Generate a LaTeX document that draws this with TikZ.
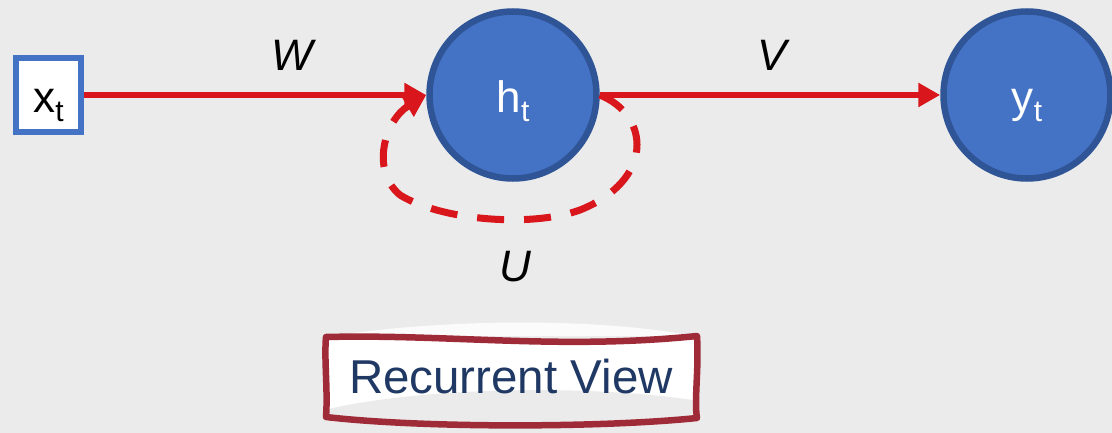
\documentclass[tikz,border=0pt]{standalone}
\usepackage{fontspec}
\setmainfont{Liberation Sans}
\usetikzlibrary{arrows.meta}
\definecolor{bg}{RGB}{235,235,235}
\definecolor{nodeblue}{RGB}{68,114,196}
\definecolor{darkblue}{RGB}{47,85,151}
\definecolor{arrowred}{RGB}{216,22,27}
\definecolor{boxred}{RGB}{160,43,56}
\definecolor{textblue}{RGB}{31,56,100}
\newcommand\mysub[1]{\raisebox{-0.2em}{\fontsize{30}{31}\selectfont #1}}
\begin{document}
\begin{tikzpicture}[x=1pt,y=-1pt,
  neuron/.style={circle, fill=nodeblue, draw=darkblue, line width=6.5pt, minimum size=167pt,
    inner sep=0pt, text=white, font=\fontsize{44}{50}\selectfont, text height=35pt, text depth=0pt},
  inbox/.style={rectangle, fill=white, draw=nodeblue, line width=6.5pt, minimum width=65pt,
    minimum height=74pt, inner sep=0pt, font=\fontsize{44}{50}\selectfont, text height=35pt, text depth=0pt},
  conn/.style={draw=arrowred, line width=6.5pt, -{Triangle[length=22pt,width=23pt]}},
  loopconn/.style={conn, dash pattern=on 27pt off 20pt, line width=7pt},
  wlabel/.style={font=\fontsize{44}{50}\selectfont\itshape, anchor=base, inner sep=0pt},
]
\fill[bg] (0,0) rectangle (1112,433);
\useasboundingbox (0,0) rectangle (1112,433);

% Recurrent view box
\fill[white, opacity=0.8] (332,336) .. controls (450,318) and (600,318) .. (694,336) -- cycle;
\fill[white] (326,337) .. controls (450,334) and (560,350) .. (697,336)
  .. controls (699,370) and (694,400) .. (697,418)
  .. controls (600,428) and (420,428) .. (326,417)
  .. controls (328,390) and (324,360) .. (326,337) -- cycle;
\begin{scope}
  \clip (326,337) .. controls (450,334) and (560,350) .. (697,336)
    .. controls (699,370) and (694,400) .. (697,418)
    .. controls (600,428) and (420,428) .. (326,417)
    .. controls (328,390) and (324,360) .. (326,337) -- cycle;
  \fill[bg] (320,411) .. controls (420,386) and (600,384) .. (705,402) -- (705,440) -- (320,440) -- cycle;
\end{scope}
\draw[boxred, line width=6.5pt, line join=round] (326,337) .. controls (450,334) and (560,350) .. (697,336)
  .. controls (699,370) and (694,400) .. (697,418)
  .. controls (600,428) and (420,428) .. (326,417)
  .. controls (328,390) and (324,360) .. (326,337) -- cycle;
\node[anchor=base, inner sep=0pt, text=textblue, font=\fontsize{47.5}{50}\selectfont] (view) at (511,393) {Recurrent View};

% nodes
\node[inbox] (x) at (48.5,95) {x\mysub{t}};
\node[neuron] (h) at (513,95) {h\mysub{t}};
\node[neuron] (y) at (1027,95) {y\mysub{t}};

% connectors
\draw[conn] (x.east) -- (h.west);
\draw[conn] (h.east) -- (y.west);
\draw[loopconn] (h.east) .. controls (650,115) and (655,180) .. (580,210)
  .. controls (530,228) and (440,220) .. (400,195)
  .. controls (370,170) and (385,120) .. (h.west);

% labels
\node[wlabel] (W) at (292,71) {W};
\node[wlabel] (V) at (772,71) {V};
\node[wlabel] (U) at (515,281) {U};
\end{tikzpicture}
\end{document}
